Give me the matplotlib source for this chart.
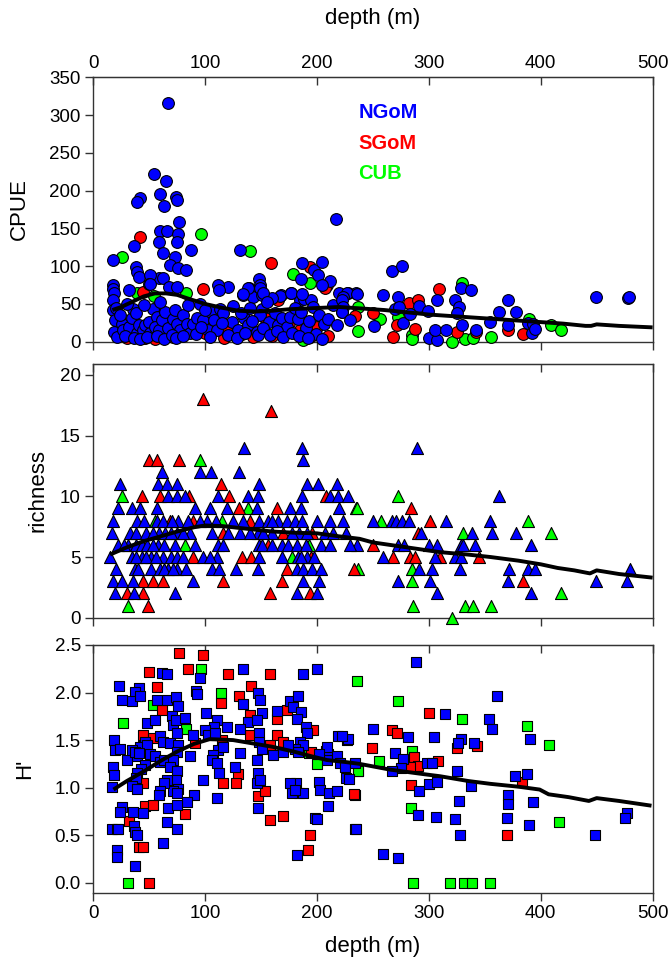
import matplotlib
matplotlib.use("Agg")
import matplotlib.pyplot as plt
from matplotlib.ticker import FormatStrFormatter

plt.rcParams['font.family'] = ['Liberation Sans', 'DejaVu Sans']

# ---------------- data ----------------
# CPUE (top panel, circles)
cpue_ngom_depth = [66.4, 54.5, 65, 59.6, 41.7, 38.7, 73.6, 74.5, 63, 76.6, 59.6, 65.6, 76, 58.7, 75, 36, 87, 131,
                   62.6, 17.3, 73, 68.5, 76, 38, 39, 40.5, 83, 187, 197.3, 204.7, 200.5, 186, 217, 148.4, 58.7, 62.6,
                   50.6, 50, 68, 75, 120.7, 111.7, 211.6, 220, 228, 235,
                   17.3, 17.5, 18.5, 18, 32, 50.7, 112, 139.5, 149, 147, 134, 143, 151, 167.5, 177, 185, 188, 195, 204,
                   166.9, 159.4, 176.4, 187, 138.6, 133.5, 149, 152,
                   17.3, 19.4, 18.5, 21, 25.4, 26.3, 32.2, 34.3, 35.2, 38.2, 39.4, 41, 44.2, 46.2, 50, 50.7, 53.7, 56.6,
                   55.2, 59, 61, 64, 67, 71, 73, 75, 77.5, 80.5, 83.5, 86.4, 89.4, 93, 98.4, 102.8, 105, 108, 110.3,
                   113.3, 116.2, 123.7, 129.6, 134.7, 138.6, 146, 147.5, 150.5, 149, 157.4, 162.4, 165.4, 169, 173, 176,
                   180, 183, 186, 190, 193, 196, 199, 202, 206, 210, 214, 218, 222, 30, 45, 60, 85, 95, 100, 125, 132,
                   140, 155, 20, 24, 28, 36, 42, 48, 57, 63, 70, 74, 80, 92, 96, 104, 115, 120, 128, 136, 142, 152, 158,
                   164, 170, 178, 184, 192, 204,
                   266.7, 275.7, 328.4, 338, 307, 259.3, 272.7, 371, 449, 478, 479, 227, 235.4, 223.5, 222, 223.5, 222,
                   229.5, 251.3, 269.7, 273.6, 277.1, 291.4, 283.1, 299.5, 300, 306.9, 305.4, 315.3, 329.3, 323.4,
                   327.3, 325.5, 342.3, 354.6, 363, 371, 378, 388.9, 392.8, 391.9, 394.9]
cpue_ngom = [315.5, 222, 213, 195.5, 190, 184.5, 192, 188, 180, 159, 147, 147, 142.5, 132, 131.5, 126.7, 122, 122,
             118, 108, 111.6, 101.5, 98, 99, 92.7, 86, 95, 103.7, 95, 106, 88, 82.5, 162.4, 82.5, 84.7, 84.7,
             89, 77, 72.8, 72.8, 72, 75, 80, 64, 64, 64,
             75, 70, 64, 55, 68, 77, 68, 70.6, 75, 66, 61.8, 59.6, 62, 62, 65, 55, 57, 55, 75,
             60.5, 58, 65, 63, 70.6, 63, 70.6, 64,
             42, 28.7, 13, 5.7, 24, 15.5, 20, 31, 44, 37.5, 11, 22, 15.5, 22, 26.5, 11, 44, 33,
             20, 15.5, 28.7, 40, 17.6, 30.5, 41.5, 24, 15.5, 35, 24, 11, 24, 31, 28.7, 15.5, 39.8, 28.7, 15.5,
             44, 37.5, 26.5, 15.5, 31, 22, 13, 8.8, 44, 35, 26.5, 37.5, 22, 31, 20, 33,
             45, 30, 40, 18, 28, 46, 10, 35, 24, 30, 48, 22, 40, 50, 48, 52, 48, 50, 42, 47, 38,
             45, 52, 45, 35, 8, 5, 3, 6, 8, 3, 9, 5, 8, 10, 20, 6, 25, 9, 5, 12, 27, 18, 9,
             14, 6, 12, 8, 5, 3,
             94, 100, 71.5, 68.4, 55, 61.8, 59.6, 55, 59.6, 57.4, 58.7, 64, 63, 59.6, 55, 46.3, 40,
             28.7, 21, 42.8, 46.3, 24.3, 47.6, 36.2, 41, 4.4, 2.2, 15.5, 15.5, 22, 55,
             46.3, 37.5, 16, 26.5, 39.7, 22, 39.7, 25, 23.4, 11, 16.3]
cpue_sgom_depth = [41.7, 158.9, 194, 98.3, 44.4, 208.6, 207, 165.4, 30.4, 46.2, 71.5, 82.3, 99.8, 116.8, 119, 142.5,
                   153.5, 159.4, 167.5, 193.7, 55, 65, 88, 133, 185, 200, 175, 210, 60,
                   234, 250.3, 271.8, 267.6, 282.5, 290.5, 287.5, 308.6, 324.8, 342.3, 371, 383.7]
cpue_sgom = [138, 104.6, 99, 69.3, 66.2, 75, 71.5, 55, 4.4, 4.4, 6.6, 13, 11, 4.4, 15.5, 6.6,
             31, 7.5, 11, 6.6, 3, 10, 18, 10, 15, 20, 25, 8, 35,
             34, 38.4, 22, 5.7, 50.7, 55, 16.8, 69.3, 13.2, 13.2, 15.5, 10]
cpue_cub_depth = [96, 26, 140, 178.8, 193.7, 82.8, 54, 38.8, 187.8, 60,
                  237, 237, 256.3, 272.7, 284.6, 284.6, 320.3, 329.3, 332.3, 339.3, 355.5, 389.8, 408.8, 417.8]
cpue_cub = [142.5, 111.6, 120.5, 89.6, 78, 64, 60.5, 64, 2, 10,
            45.5, 14, 29.6, 33, 8.8, 3, 0, 78, 3.5, 5.3, 6.6, 29.6, 22, 15.5]
cpue_fit_depth = [17, 25, 35, 45, 55, 65, 75, 85, 100, 115, 130, 145, 160, 175, 190, 205, 220, 240, 260, 280,
                  300, 320, 340, 360, 380, 400, 420, 440, 445, 450, 470, 500]
cpue_fit = [42, 46, 53, 60, 64, 64, 62, 57, 50, 45, 41, 40, 41, 43, 44, 45, 46, 44, 42, 39,
            36, 34, 32, 30, 28, 26, 24, 21, 21, 23, 21, 19]

# richness (middle panel, triangles)
rich_ngom_depth = [134.7, 186.8, 289, 187.1, 61, 95.4, 104.9, 130.2,
                   23.8, 58, 65.6, 74.5, 148.4, 190.7, 200.5, 217.5,
                   67, 75, 82, 111.7, 138.6, 147.5, 186.2, 211.6, 219, 228, 362.7,
                   22.3, 34.3, 41.7, 57.2, 90.9, 104.3, 119.8, 146, 175.8, 185.3, 220,
                   17.9, 38.7, 56.6, 62.6, 76, 84.3, 101.3, 109.7, 133.5, 148.4, 156.4, 165.4, 172.8, 180.3, 186.2,
                   222.9, 250.3, 266.7, 270.6, 275.7, 282.5, 315.3, 354.6, 45, 70, 95, 125, 160, 200, 212,
                   16.4, 32.8, 38.1, 47, 59, 64, 74.5, 86.4, 106.4, 131, 147.5, 159.4, 184.1, 190.7, 207, 214.6, 225.9,
                   292.6, 338.2, 356.7, 378.1, 53, 69, 80, 120, 140, 152, 178,
                   22.3, 31.3, 38.1, 43.2, 48.3, 58, 73, 90.9, 111.7, 148.1, 168.3, 174.3, 182.3, 203.6, 211.6, 235.4,
                   229.5, 272.7, 277.7, 300.4, 307.5, 328.4, 330.2, 341.2, 391, 27, 53, 63, 116, 151, 160, 190,
                   14.9, 34.3, 43.2, 51.3, 62.6, 69.1, 74.5, 97.7, 110.3, 148.1, 168.3, 183.2, 191.3, 259.3, 305.4,
                   323.4, 328.4, 38, 47, 56, 80, 104, 186, 197,
                   20.3, 37.2, 52, 59.6, 67, 74.5, 82.8, 105.8, 112.6, 127.2, 147.5, 182.3, 187.7, 195.8, 203.2,
                   291.4, 303, 327.8, 372, 388.9, 394.9, 479.7, 40, 63, 71,
                   17.9, 25.3, 35.2, 89.4, 187.1, 202, 272.7, 300.9, 371, 449.4, 477.4,
                   19.4, 36.4, 73, 181.8, 199.6, 307.5, 391]
rich_ngom = [14, 14, 14, 13, 12, 12, 12, 12,
             11, 11, 11, 11, 11, 11, 11, 11,
             10, 10, 10, 10, 10, 10, 10, 10, 10, 10, 10,
             9, 9, 9, 9, 9, 9, 9, 9, 9, 9, 9,
             8, 8, 8, 8, 8, 8, 8, 8, 8, 8, 8, 8, 8, 8, 8,
             8, 8, 8, 8, 8, 8, 8, 8, 8, 8, 8, 8, 8, 8, 8,
             7, 7, 7, 7, 7, 7, 7, 7, 7, 7, 7, 7, 7, 7, 7, 7, 7,
             7, 7, 7, 7, 7, 7, 7, 7, 7, 7, 7,
             6, 6, 6, 6, 6, 6, 6, 6, 6, 6, 6, 6, 6, 6, 6, 6,
             6, 6, 6, 6, 6, 6, 6, 6, 6, 6, 6, 6, 6, 6, 6, 6,
             5, 5, 5, 5, 5, 5, 5, 5, 5, 5, 5, 5, 5, 5, 5,
             5, 5, 5, 5, 5, 5, 5, 5, 5,
             4, 4, 4, 4, 4, 4, 4, 4, 4, 4, 4, 4, 4, 4, 4,
             4, 4, 4, 4, 4, 4, 4, 4, 4, 4,
             3, 3, 3, 3, 3, 3, 3, 3, 3, 3, 3,
             2, 2, 2, 2, 2, 2, 2]
rich_sgom_depth = [98.3, 158.5, 49.8, 56.6, 76.6, 114, 43.8, 59.6, 85.8, 121.3, 207.7, 130.2, 163.9, 284,
                   68.5, 89.4, 140, 301, 115.6, 169.2, 195.8, 290.5, 156.4, 249.7,
                   89.4, 132.6, 140.6, 194.2, 267.6, 283.1, 287.6, 309.8, 345, 172.8, 233.3,
                   44.7, 53.6, 62.6, 116.2, 168.9, 383.8, 29.8, 44.1, 157.9, 193.7, 49.2]
rich_sgom = [18, 17, 13, 13, 13, 11, 10, 10, 10, 10, 10, 9, 9, 9,
             8, 8, 8, 8, 7, 7, 7, 7, 6, 6,
             5, 5, 5, 5, 5, 5, 5, 5, 5, 4, 4,
             3, 3, 3, 3, 3, 3, 2, 2, 2, 2, 1]
rich_cub_depth = [95.4, 26, 272.7, 138.6, 234.8, 236, 114.7, 256.9, 388.9, 55, 330.2, 409, 82, 193, 177.8,
                  237, 284.6, 284.6, 418.1, 30.7, 286, 332.3, 339, 355.2, 320.4]
rich_cub = [13, 10, 10, 9, 9, 9, 8, 8, 8, 8, 7, 7, 6, 6, 5,
            4, 4, 3, 2, 1, 1, 1, 1, 1, 0]
rich_fit_depth = [15, 30, 45, 60, 75, 90, 100, 115, 130, 145, 160, 180, 200, 220, 238, 250, 280, 310, 335,
                  355, 380, 400, 415, 430, 444, 450, 470, 500]
rich_fit = [5.2, 5.8, 6.3, 6.7, 7.1, 7.45, 7.6, 7.55, 7.4, 7.25, 7.1, 7.0, 6.95, 6.7, 6.5, 6.2, 5.8, 5.4, 5.2,
            5.0, 4.7, 4.4, 4.1, 3.9, 3.65, 3.9, 3.6, 3.3]

# H' (bottom panel, squares)
h_ngom_depth = [95.4, 61, 66.2, 134, 187.7, 199.6, 23.2, 40.8, 37.2, 34.3, 41.7, 25.3, 147.5, 149, 91.8, 92.4,
                133.5, 56.6, 65.6, 73.9, 76, 100.4, 164.5, 176, 183.2, 178.8, 185.3, 181.8, 150.5, 47.7, 55.2,
                70, 71.5, 74.5, 73.9, 82.2, 110.3, 107.9, 99.8, 102.8, 108.8, 119.2, 138.6, 146, 131.1, 190,
                191.3, 18.8, 19.4, 17.9, 18.5, 23.8, 46.2, 59.6, 62.6, 68.5, 76, 89.4, 111.7, 116.2, 106.7,
                148.4, 148.4, 150.5, 160.9, 169.2, 184.7, 187.1, 180.3, 183.2, 174.3, 29.8, 38.7, 41.7, 48.3,
                50.7, 55.2, 59.6, 63.3, 46.2, 42.4, 39.4, 34.3, 37.2, 41.1, 74.5, 71.5, 68.5, 86.4, 105.8,
                110.3, 112.6, 126.6, 131.1, 146, 147.5, 146, 149, 210, 208.6, 217.5, 220.5, 225, 208.6, 219,
                227, 202, 226.3, 234, 38.1, 34.3, 38.7, 16.4, 74.5, 73.9, 75.4, 71.5, 74.5, 66.2, 63.3, 59.6,
                58.4, 98.3, 110.9, 90.3, 83.4, 67, 74.5, 25.3, 23.8, 35.8, 44.1, 181.2, 184.1, 187.1, 175.8,
                177.3, 180.3, 202, 202.6, 211, 217.5, 147.5, 210, 198.2, 199.6, 182.4, 65.6, 62.6, 16.4, 20.9,
                22.3, 36.4, 37.2, 38.7, 20.9, 20.9, 37.2, 74.5, 234,
                288.4, 361.2, 314.4, 353.7, 356.1, 250.3, 281.6, 304.5, 328.4, 326.3, 340.3, 390.4, 228, 222,
                269.7, 277.1, 275.1, 298.6, 302.4, 266.7, 325.4, 228.9, 300.4, 306.9, 337.3, 377.1, 387.4, 291,
                370.4, 370.4, 392.8, 327.2, 290.5, 306.6, 323.3, 369.5, 389.5, 476.8, 475.3, 448.5, 327.8,
                234.5, 258.7, 272.1]
h_ngom = [2.15, 2.21, 2.20, 2.25, 2.20, 2.25, 2.07, 2.05, 2.01, 1.91, 1.96, 1.92, 2.0, 1.92, 2.02, 1.98,
          1.88, 1.92, 1.92, 1.95, 1.86, 1.79, 1.81, 1.91, 1.96, 1.85, 1.80, 1.72, 1.78, 1.68, 1.71,
          1.75, 1.66, 1.57, 1.71, 1.73, 1.71, 1.64, 1.61, 1.55, 1.57, 1.64, 1.69, 1.71, 1.62, 1.64,
          1.57, 1.50, 1.40, 1.22, 1.13, 1.41, 1.48, 1.54, 1.48, 1.47, 1.45, 1.55, 1.40, 1.43, 1.34,
          1.57, 1.48, 1.41, 1.34, 1.37, 1.48, 1.45, 1.41, 1.38, 1.45, 1.29, 1.33, 1.43, 1.45,
          1.35, 1.33, 1.27, 1.29, 1.24, 1.20, 1.15, 1.40, 1.38, 1.36, 1.38, 1.29, 1.22, 1.33, 1.29,
          1.26, 1.15, 1.22, 1.36, 1.29, 1.15, 1.05, 1.08, 1.35, 1.29, 1.33, 1.26, 1.22, 1.43, 1.54,
          1.50, 1.35, 1.10, 1.26, 1.10, 1.02, 0.99, 1.01, 1.17, 1.08, 0.99, 0.96, 0.94, 1.08, 1.05, 0.96,
          0.92, 1.08, 0.89, 0.92, 0.85, 0.79, 0.82, 0.80, 0.74, 0.74, 0.73, 1.05, 0.94, 0.94, 1.05,
          0.94, 0.98, 1.06, 0.98, 0.94, 0.96, 0.79, 0.81, 0.68, 0.67, 0.29, 0.64, 0.42, 0.57, 0.56,
          0.57, 0.60, 0.53, 0.50, 0.34, 0.27, 0.18, 0.56, 0.57,
          2.32, 1.96, 1.77, 1.72, 1.62, 1.62, 1.53, 1.53, 1.51, 1.47, 1.47, 1.51, 1.51, 1.54,
          1.36, 1.30, 1.21, 1.26, 1.26, 1.18, 1.18, 1.09, 1.04, 1.06, 1.02, 1.12, 1.14, 0.96,
          0.92, 0.83, 0.85, 0.86, 0.71, 0.69, 0.67, 0.68, 0.61, 0.73, 0.68, 0.50, 0.50,
          0.57, 0.30, 0.26]
h_sgom_depth = [76.9, 98.3, 50, 85, 120.7, 157.9, 56.6, 140.6, 130.2, 114, 61, 172.8, 140, 163.9, 196.7, 44.7,
                44.1, 53.6, 90.9, 115.3, 140, 157.6, 164.2, 170, 194.2, 208, 129.6, 127.5, 234, 44.7, 116.2,
                82, 46.2, 53.6, 147.5, 153.5, 157.9, 169.2, 193.7, 192.2, 32.2, 40.5, 44.1, 50,
                300.4, 266.7, 271.8, 325.4, 343.3, 249.4, 286.7, 290.5, 283.1, 308.4, 383.3, 283.7, 233, 369.5]
h_sgom = [2.42, 2.39, 2.22, 2.25, 2.20, 2.19, 2.06, 2.07, 1.96, 1.89, 1.82, 1.82, 1.76, 1.72, 1.61, 1.55,
          1.44, 1.52, 1.47, 1.50, 1.55, 1.45, 1.55, 1.48, 1.38, 1.39, 1.14, 1.05, 0.92, 1.05, 1.05,
          0.72, 0.81, 0.82, 0.91, 0.96, 0.66, 0.70, 0.50, 0.34, 0.65, 0.38, 0.38, 0.0,
          1.79, 1.61, 1.57, 1.42, 1.44, 1.42, 1.32, 1.23, 1.22, 1.28, 1.06, 1.03, 0.93, 0.50]
h_cub_depth = [96.2, 114, 53.6, 26.8, 82.8, 193, 199.6, 236.3, 31.3,
               235.4, 272.1, 329.9, 387.4, 407.7, 284.6, 255.7, 236.9, 283.7, 416.6, 285.5, 318.9, 331.4,
               338.9, 354.6]
h_cub = [2.25, 2.0, 1.87, 1.68, 1.62, 1.36, 1.25, 1.17, 0.0,
         2.12, 1.91, 1.72, 1.65, 1.45, 1.39, 1.28, 1.17, 0.79, 0.64, 0.0, 0.0, 0.0,
         0.0, 0.0]
h_fit_depth = [18, 30, 45, 60, 75, 90, 104, 125, 140, 160, 179, 195, 209, 225, 238, 265, 290, 310, 335,
               355, 380, 399, 407, 425, 443, 450, 470, 499]
h_fit = [0.98, 1.07, 1.17, 1.28, 1.38, 1.46, 1.51, 1.50, 1.47, 1.43, 1.38, 1.33, 1.29, 1.27, 1.25, 1.19,
         1.15, 1.12, 1.07, 1.04, 1.01, 0.98, 0.93, 0.90, 0.86, 0.89, 0.86, 0.81]

region_colors = {'NGoM': '#0000ff', 'SGoM': '#ff0000', 'CUB': '#00ff00'}

fig = plt.figure(figsize=(6.69, 9.67), dpi=100)
left, width = 0.1395, 0.836
ax1 = fig.add_axes([left, 0.6466, width, 0.2734])
ax2 = fig.add_axes([left, 0.3612, width, 0.2624])
ax3 = fig.add_axes([left, 0.0768, width, 0.2562])

panels = [
    (ax1, 'o', 72, [(cpue_cub_depth, cpue_cub, 'CUB'), (cpue_sgom_depth, cpue_sgom, 'SGoM'),
                    (cpue_ngom_depth, cpue_ngom, 'NGoM')], cpue_fit_depth, cpue_fit),
    (ax2, '^', 75, [(rich_cub_depth, rich_cub, 'CUB'), (rich_sgom_depth, rich_sgom, 'SGoM'),
                    (rich_ngom_depth, rich_ngom, 'NGoM')], rich_fit_depth, rich_fit),
    (ax3, 's', 50, [(h_cub_depth, h_cub, 'CUB'), (h_sgom_depth, h_sgom, 'SGoM'),
                    (h_ngom_depth, h_ngom, 'NGoM')], h_fit_depth, h_fit),
]

for ax, mk, sz, groups, fx, fy in panels:
    for xs, ys, name in groups:
        ax.scatter(xs, ys, marker=mk, s=sz, c=region_colors[name], edgecolors='black',
                   linewidths=0.8, zorder=3, clip_on=False)
    ax.plot(fx, fy, color='black', lw=2.8, zorder=4, solid_capstyle='butt')
    ax.set_xlim(0, 500)
    ax.set_xticks([0, 100, 200, 300, 400, 500])
    for sp in ax.spines.values():
        sp.set_color('#333333')
        sp.set_linewidth(1.0)
    ax.tick_params(axis='both', direction='out', length=6, width=1, color='#333333',
                   labelsize=13.5, pad=3)
    ax.tick_params(axis='x', labelbottom=False)
    top = ax.secondary_xaxis('top')
    top.set_xticks([0, 100, 200, 300, 400, 500])
    top.tick_params(direction='in', length=6, width=1, color='#333333', labeltop=False, labelsize=13.5)
    top.spines['top'].set_color('#333333')
    if ax is ax1:
        top.tick_params(labeltop=True, pad=4)
        top.set_xlabel('depth (m)', fontsize=16, labelpad=22)

ax1.set_ylim(0, 350)
ax1.set_yticks(range(0, 351, 50))
ax1.set_ylabel('CPUE', fontsize=16, labelpad=14)

ax2.set_ylim(0, 20.9)
ax2.set_yticks([0, 5, 10, 15, 20])
ax2.set_ylabel('richness', fontsize=16, labelpad=8)

ax3.set_ylim(-0.105, 2.5)
ax3.set_yticks([0.0, 0.5, 1.0, 1.5, 2.0, 2.5])
ax3.yaxis.set_major_formatter(FormatStrFormatter('%.1f'))
ax3.set_ylabel("H'", fontsize=16, labelpad=14)
ax3.tick_params(axis='x', labelbottom=True)
ax3.set_xlabel('depth (m)', fontsize=16, labelpad=10)

# region labels
for name, yv in zip(['NGoM', 'SGoM', 'CUB'], [303, 263, 223]):
    ax1.text(237, yv, name, color=region_colors[name], fontsize=14.5, fontweight='bold',
             va='center', ha='left')

fig.savefig('out.png', dpi=100)
